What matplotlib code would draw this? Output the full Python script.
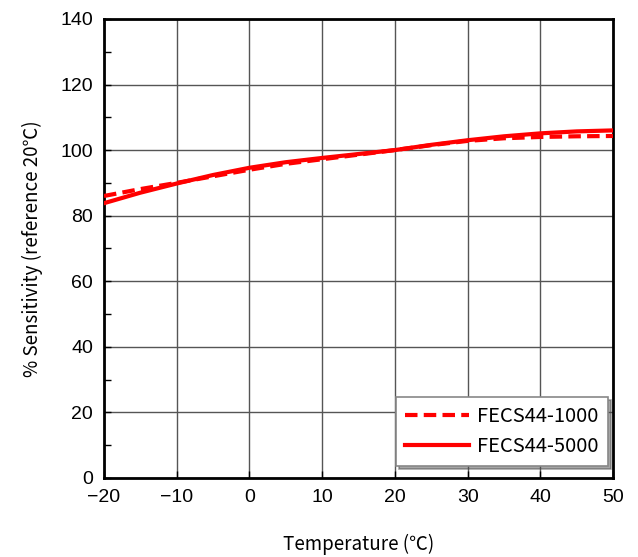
import matplotlib.pyplot as plt
from matplotlib.ticker import MultipleLocator

# Data (every 5 degC)
temps = [-20, -15, -10, -5, 0, 5, 10, 15, 20, 25, 30, 35, 40, 45, 50]
sens_1000 = [86.0, 88.1, 90.0, 92.0, 94.0, 95.8, 97.2, 98.6, 100.0,
             101.5, 102.8, 103.6, 104.0, 104.2, 104.3]
sens_5000 = [83.8, 87.0, 89.8, 92.4, 94.6, 96.3, 97.6, 98.8, 100.0,
             101.6, 103.0, 104.2, 105.1, 105.7, 106.0]

x_ticks = [-20, -10, 0, 10, 20, 30, 40, 50]
y_ticks = [0, 20, 40, 60, 80, 100, 120, 140]

jp_font = ['Noto Sans CJK JP', 'DejaVu Sans']
num_font = ['Liberation Sans', 'DejaVu Sans']

fig = plt.figure(figsize=(6.38, 5.57), dpi=100)
ax = fig.add_axes([0.163, 0.142, 0.798, 0.824])

ax.plot(temps, sens_1000, color='red', lw=3, ls=(0, (3, 1.5)), label='FECS44-1000', zorder=3)
ax.plot(temps, sens_5000, color='red', lw=3, ls='-', label='FECS44-5000', zorder=3)

ax.set_xlim(-20, 50)
ax.set_ylim(0, 140)
ax.set_xticks(x_ticks)
ax.set_yticks(y_ticks)
ax.set_xticklabels(['\u221220', '\u221210', '0', '10', '20', '30', '40', '50'])
ax.yaxis.set_minor_locator(MultipleLocator(10))
ax.grid(True, which='major', color='#555555', lw=1)
ax.tick_params(which='both', direction='in', length=5, width=1)
ax.tick_params(axis='both', which='major', labelsize=14, pad=8)
for lab in ax.get_xticklabels() + ax.get_yticklabels():
    lab.set_family(num_font)
for sp in ax.spines.values():
    sp.set_linewidth(2)
    sp.set_color('black')

ax.set_xlabel('Temperature (\u2103)', fontsize=13.5, family=jp_font, labelpad=20)
ax.set_ylabel('% Sensitivity (reference 20\u2103)', fontsize=13.5, family=jp_font, labelpad=12)

leg = ax.legend(loc='lower right', prop={'family': jp_font, 'size': 14.5},
                fancybox=False, shadow=True, framealpha=1, edgecolor='#888888',
                handlelength=3.2, handletextpad=0.4, borderpad=0.45, labelspacing=0.45,
                borderaxespad=0, bbox_to_anchor=(0.99, 0.026))
leg.get_frame().set_linewidth(1.2)

fig.savefig('out.png', dpi=100)
